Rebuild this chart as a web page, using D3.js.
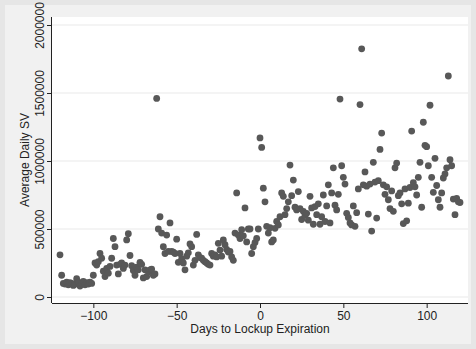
<!DOCTYPE html>
<html>
<head>
<meta charset="utf-8">
<script src="https://cdn.jsdelivr.net/npm/d3@7"></script>
<style>
  body { margin: 0; }
  text { font-family: "Liberation Sans", Arial, sans-serif; fill: #222; }
</style>
</head>
<body>
<svg id="chart" width="476" height="349"></svg>
<script>
const X_TICKS = [-100, -50, 0, 50, 100];
const Y_TICKS = [0, 500000, 1000000, 1500000, 2000000];
const X_TITLE = "Days to Lockup Expiration";
const Y_TITLE = "Average Daily SV";

// one observation per day, -120 .. 120
const DAYS = d3.range(-120, 121);
const AVG_SV = [
  310000, 160000, 100000, 95000, 110000, 90000, 105000, 100000, 85000, 95000,
  135000, 110000, 80000, 100000, 115000, 90000, 105000, 95000, 110000, 100000,
  160000, 250000, 235000, 260000, 320000, 285000, 190000, 150000, 210000, 175000,
  225000, 285000, 430000, 370000, 235000, 170000, 240000, 250000, 210000, 235000,
  420000, 465000, 305000, 230000, 195000, 160000, 220000, 200000, 255000, 240000,
  140000, 200000, 150000, 185000, 200000, 205000, 160000, 170000, 1460000, 500000,
  590000, 470000, 370000, 320000, 455000, 335000, 545000, 335000, 330000, 320000,
  425000, 255000, 320000, 280000, 250000, 200000, 300000, 325000, 390000, 370000,
  235000, 270000, 460000, 310000, 290000, 285000, 270000, 260000, 250000, 240000,
  235000, 320000, 300000, 310000, 295000, 395000, 345000, 300000, 420000, 385000,
  350000, 330000, 335000, 295000, 270000, 470000, 765000, 455000, 430000, 495000,
  450000, 655000, 405000, 500000, 500000, 320000, 370000, 400000, 430000, 500000,
  1170000, 1100000, 800000, 700000, 520000, 470000, 510000, 405000, 420000, 505000,
  555000, 530000, 590000, 765000, 740000, 605000, 650000, 700000, 970000, 745000,
  860000, 660000, 640000, 775000, 650000, 570000, 630000, 600000, 615000, 565000,
  740000, 655000, 535000, 665000, 605000, 685000, 535000, 590000, 750000, 555000,
  670000, 825000, 545000, 765000, 950000, 675000, 640000, 755000, 1455000, 965000,
  880000, 830000, 615000, 585000, 545000, 530000, 670000, 520000, 620000, 795000,
  1415000, 1825000, 825000, 920000, 815000, 610000, 830000, 485000, 990000, 845000,
  580000, 855000, 1085000, 1205000, 825000, 755000, 810000, 715000, 650000, 780000,
  630000, 950000, 985000, 745000, 765000, 685000, 540000, 795000, 560000, 690000,
  805000, 1220000, 840000, 810000, 750000, 880000, 990000, 660000, 1285000, 1115000,
  1105000, 965000, 1410000, 880000, 770000, 1020000, 820000, 715000, 660000, 765000,
  875000, 905000, 950000, 1625000, 1010000, 965000, 720000, 605000, 725000, 700000,
  695000
];

const svg = d3.select("#chart");

// graph region
svg.append("rect").attr("width", 476).attr("height", 349).attr("fill", "#e6e6e6");
svg.append("rect").attr("x", 5).attr("y", 5).attr("width", 466).attr("height", 339)
  .attr("fill", "#f1f1f1");

// plot region
const plot = { left: 52, right: 468, top: 17, bottom: 303 };
svg.append("rect")
  .attr("x", plot.left).attr("y", plot.top)
  .attr("width", plot.right - plot.left).attr("height", plot.bottom - plot.top)
  .attr("fill", "#fff");

const x = d3.scaleLinear().domain([-120, 120]).range([60, 460]);
const y = d3.scaleLinear().domain([0, 2000000]).range([297, 25]);

// grid
svg.append("g").selectAll("line").data(Y_TICKS).enter().append("line")
  .attr("x1", plot.left).attr("x2", plot.right)
  .attr("y1", (d) => y(d)).attr("y2", (d) => y(d))
  .attr("stroke", "#e9e9e9").attr("stroke-width", 1.2);

// points
svg.append("g").selectAll("circle")
  .data(DAYS.map((d, i) => ({ day: d, sv: AVG_SV[i] })))
  .enter().append("circle")
  .attr("cx", (d) => x(d.day)).attr("cy", (d) => y(d.sv))
  .attr("r", 3.4).attr("fill", "#585858");

// axes
const fmt = (d) => (d < 0 ? "\u2212" + Math.abs(d) : String(d));

const xAxis = svg.append("g").attr("transform", "translate(0," + plot.bottom + ")")
  .call(d3.axisBottom(x).tickValues(X_TICKS).tickSize(5).tickPadding(3).tickFormat(fmt));
xAxis.select(".domain").attr("d", "M" + plot.left + ",0.5H" + plot.right).attr("stroke", "#222");
xAxis.selectAll(".tick line").attr("stroke", "#222");
xAxis.selectAll(".tick text").attr("font-size", 12).attr("fill", "#222")
  .attr("font-family", "Liberation Sans, Arial, sans-serif");

const yAxis = svg.append("g").attr("transform", "translate(" + plot.left + ",0)")
  .call(d3.axisLeft(y).tickValues(Y_TICKS).tickSize(5).tickFormat(fmt));
yAxis.select(".domain").attr("d", "M-0.5," + plot.top + "V" + plot.bottom).attr("stroke", "#222");
yAxis.selectAll(".tick line").attr("stroke", "#222");
yAxis.selectAll(".tick text")
  .attr("x", null).attr("dy", null)
  .attr("text-anchor", "middle")
  .attr("transform", "translate(-8.5,0) rotate(-90)")
  .attr("font-size", 12).attr("fill", "#222")
  .attr("font-family", "Liberation Sans, Arial, sans-serif");

// titles
svg.append("text")
  .attr("x", 260).attr("y", 332.5)
  .attr("text-anchor", "middle").attr("font-size", 12)
  .text(X_TITLE);

svg.append("text")
  .attr("transform", "translate(28.5," + (plot.top + plot.bottom) / 2 + ") rotate(-90)")
  .attr("text-anchor", "middle").attr("font-size", 12)
  .text(Y_TITLE);
</script>
</body>
</html>
